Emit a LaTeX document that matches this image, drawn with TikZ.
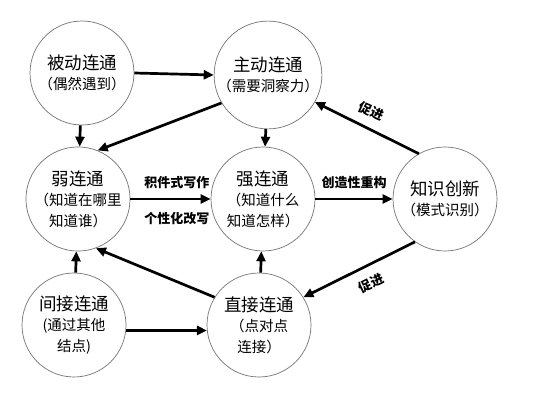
\documentclass[tikz,border=0pt]{standalone}
\usepackage{fontspec}
\setmainfont{Noto Sans CJK SC}
\usetikzlibrary{arrows.meta}
\newcommand{\ttl}{\fontsize{17.5}{21}\selectfont}
\newcommand{\sbt}{\fontsize{14.5}{20.5}\selectfont}
\tikzset{
  bubble/.style={circle, draw=black!55, line width=0.7pt, minimum size=104pt, inner sep=0pt, align=center, font=\sbt},
  link/.style={line width=2.7pt, -{Triangle[length=10pt,width=9pt]}},
  lbl/.style={font=\fontsize{13}{15}\selectfont\bfseries, inner sep=1pt}
}
\begin{document}
\begin{tikzpicture}[x=1pt,y=-1pt]
\fill[white] (0,0) rectangle (536,402);
\useasboundingbox (0,0) rectangle (536,402);
\node[bubble] (n1) at (82,73) {{\ttl 被动连通}\\（偶然遇到）};
\node[bubble] (n2) at (268,75) {{\ttl 主动连通}\\（需要洞察力）};
\node[bubble] (n3) at (78,199) {{\ttl 弱连通}\\（知道在哪里\\知道谁）};
\node[bubble] (n4) at (263,199) {{\ttl 强连通}\\（知道什么\\知道怎样）};
\node[bubble] (n5) at (445,199) {{\ttl 知识创新}\\（模式识别）};
\node[bubble] (n6) at (74,325) {{\ttl 间接连通}\\(通过其他\\结点)};
\node[bubble] (n7) at (259,325) {{\ttl 直接连通}\\（点对点\\连接）};
\draw[link] (n1.east) -- (n2.west);
\draw[link] (n1) -- (n3);
\draw[link] (n2.211) -- (n3.68);
\draw[link] (n2) -- (n4);
\draw[link] (n5.120) -- (n2.-30);
\node[lbl, rotate=-24] (p1) at (371,111) {促进};
\draw[link] (n3.east) -- node[lbl, above=8pt, pos=0.58] {积件式写作} node[lbl, below=11pt, pos=0.58] {个性化改写} (n4.west);
\draw[link] (n4.east) -- node[lbl, above=8pt, pos=0.5] {创造性重构} (n5.west);
\draw[link] (n5.235) -- (n7.32);
\node[lbl, rotate=26] (p2) at (371,283) {促进};
\draw[link] (n6) -- (n3);
\draw[link] (n7.148) -- (n3.-70);
\draw[link] (n7) -- (n4);
\draw[link] (n6.-6) -- (n7.186);
\end{tikzpicture}
\end{document}
